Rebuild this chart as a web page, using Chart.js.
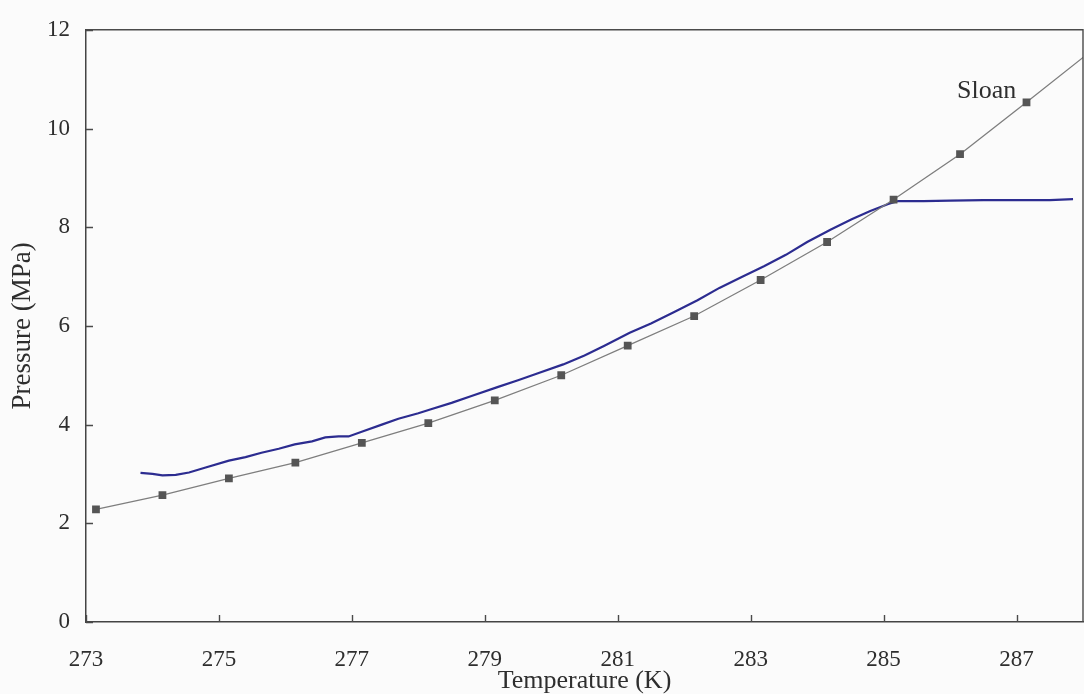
<!DOCTYPE html>
<html>
<head>
<meta charset="utf-8">
<script src="https://cdn.jsdelivr.net/npm/chart.js@4.4.0/dist/chart.umd.min.js"></script>
<style>
  html, body { margin: 0; padding: 0; background: #fbfbfb; }
  #wrap { width: 1084px; height: 694px; }
</style>
</head>
<body>
<div id="wrap"><canvas id="chart" width="1084" height="694"></canvas></div>
<script>
// Sloan prediction (one point per degree Celsius)
const sloanTemp = [273.15, 274.15, 275.15, 276.15, 277.15, 278.15, 279.15, 280.15,
                   281.15, 282.15, 283.15, 284.15, 285.15, 286.15, 287.15, 288.15];
const sloanPressure = [2.28, 2.57, 2.91, 3.23, 3.63, 4.03, 4.49, 5.0,
                       5.6, 6.2, 6.93, 7.7, 8.56, 9.48, 10.53, 11.6];

// measured equilibrium curve
const expTemp = [273.82, 274.0, 274.15, 274.35, 274.55, 274.8, 275.15, 275.4, 275.64, 275.9,
                 276.14, 276.4, 276.6, 276.8, 276.95, 277.18, 277.45, 277.7, 278.0, 278.19,
                 278.5, 278.8, 279.19, 279.5, 279.8, 280.18, 280.5, 280.8, 281.18, 281.5,
                 281.85, 282.2, 282.53, 282.85, 283.2, 283.53, 283.85, 284.2, 284.52, 284.8,
                 285.07, 285.22, 285.6, 286.0, 286.5, 287.0, 287.5, 287.85];
const expPressure = [3.02, 3.0, 2.97, 2.98, 3.03, 3.13, 3.27, 3.34, 3.43, 3.51,
                     3.6, 3.66, 3.74, 3.76, 3.76, 3.87, 4.0, 4.12, 4.23, 4.31,
                     4.44, 4.58, 4.76, 4.9, 5.04, 5.22, 5.4, 5.6, 5.86, 6.05,
                     6.28, 6.52, 6.77, 6.98, 7.21, 7.44, 7.7, 7.95, 8.16, 8.33,
                     8.47, 8.53, 8.53, 8.54, 8.55, 8.55, 8.55, 8.57];

const xTicks = [273, 275, 277, 279, 281, 283, 285, 287];
const yTicks = [0, 2, 4, 6, 8, 10, 12];

const serif = "'Liberation Serif', 'DejaVu Serif', serif";
const ink = "#2e2e2e";

function toPoints(xs, ys) {
  return xs.map((x, i) => ({ x: x, y: ys[i] }));
}

// box frame, inward tick marks and the curve label
const framePlugin = {
  id: "frame",
  afterDraw(chart) {
    const ctx = chart.ctx;
    const a = chart.chartArea;
    const xs = chart.scales.x;
    const ys = chart.scales.y;
    ctx.save();
    ctx.strokeStyle = "#4a4a4a";
    ctx.lineWidth = 1.4;
    ctx.beginPath();
    ctx.moveTo(a.left, a.top);
    ctx.lineTo(a.right, a.top);
    ctx.lineTo(a.right, a.bottom);
    ctx.stroke();

    ctx.beginPath();
    xTicks.forEach(v => {
      const px = Math.round(xs.getPixelForValue(v)) + 0.5;
      ctx.moveTo(px, a.bottom);
      ctx.lineTo(px, a.bottom - 7);
    });
    yTicks.forEach(v => {
      const py = Math.round(ys.getPixelForValue(v)) + 0.5;
      ctx.moveTo(a.left, py);
      ctx.lineTo(a.left + 7, py);
    });
    ctx.stroke();

    ctx.fillStyle = ink;
    ctx.font = "26px " + serif;
    ctx.textAlign = "center";
    ctx.textBaseline = "middle";
    ctx.fillText("Sloan", xs.getPixelForValue(286.55), ys.getPixelForValue(10.75));
    ctx.restore();
  }
};

new Chart(document.getElementById("chart"), {
  type: "line",
  data: {
    datasets: [
      {
        label: "Sloan",
        data: toPoints(sloanTemp, sloanPressure),
        borderColor: "#7e7e7e",
        borderWidth: 1.3,
        pointStyle: "rect",
        pointRadius: 5.5,
        pointBackgroundColor: "#555",
        pointBorderWidth: 0,
        tension: 0
      },
      {
        label: "Experiment",
        data: toPoints(expTemp, expPressure),
        borderColor: "#2c2c90",
        borderWidth: 2.2,
        pointRadius: 0,
        tension: 0
      }
    ]
  },
  options: {
    responsive: false,
    animation: false,
    devicePixelRatio: 1,
    layout: { autoPadding: false, padding: { top: 28, right: 1, left: 0, bottom: 0 } },
    plugins: {
      legend: { display: false },
      tooltip: { enabled: false }
    },
    scales: {
      x: {
        type: "linear",
        min: 273,
        max: 288,
        afterBuildTicks: s => { s.ticks = xTicks.map(v => ({ value: v })); },
        afterFit: s => {
          s.height = 72;
          s.paddingLeft = 0;
          s.paddingRight = 0;
        },
        grid: { display: false, drawTicks: false },
        border: { display: true, color: "#444", width: 1.5 },
        ticks: {
          color: ink,
          padding: 24,
          maxRotation: 0,
          autoSkip: false,
          font: { family: serif, size: 23 }
        },
        title: {
          display: true,
          text: "Temperature (K)",
          color: ink,
          padding: 0,
          font: { family: serif, size: 26, lineHeight: 1 }
        }
      },
      y: {
        type: "linear",
        min: 0,
        max: 12,
        afterBuildTicks: s => { s.ticks = yTicks.map(v => ({ value: v })); },
        afterFit: s => { s.width = 86; },
        grid: { display: false, drawTicks: false },
        border: { display: true, color: "#444", width: 1.5 },
        ticks: {
          color: ink,
          padding: 16,
          font: { family: serif, size: 23 }
        },
        title: {
          display: true,
          text: "Pressure (MPa)",
          color: ink,
          padding: { top: 9, bottom: 0 },
          font: { family: serif, size: 27, lineHeight: 1 }
        }
      }
    }
  },
  plugins: [framePlugin]
});
</script>
</body>
</html>
